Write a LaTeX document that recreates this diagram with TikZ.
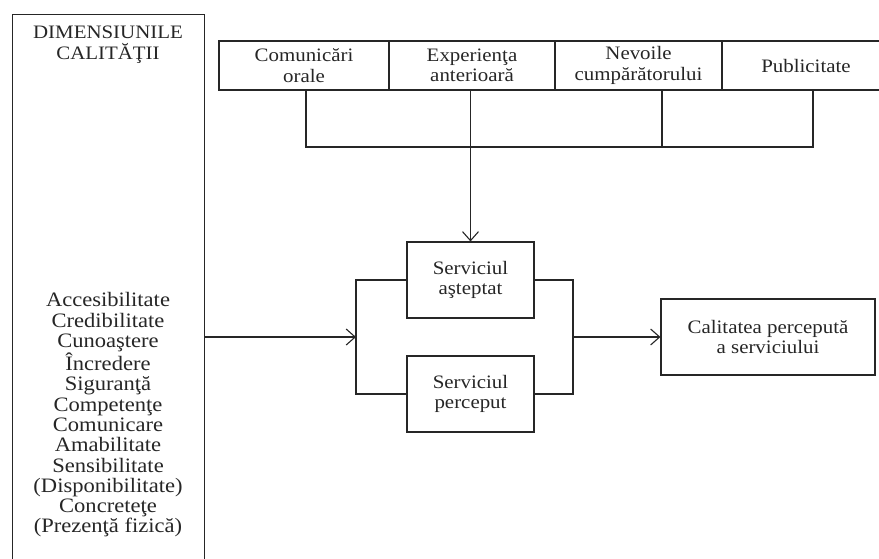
\documentclass[tikz,border=0pt]{standalone}
\usepackage{fontspec}
\setmainfont{Liberation Serif}[FakeStretch=1.1]
\usetikzlibrary{arrows.meta}
\begin{document}
\begin{tikzpicture}[x=1pt,y=-1pt,
  every node/.style={font=\fontsize{19}{20.3}\selectfont, text=black!85},
  box/.style={draw=black!85, line width=1.1pt, inner sep=0pt, align=center},
  lbl/.style={inner sep=0pt, align=center},
  conn/.style={draw=black!85, line width=1.1pt},
  arr/.style={conn, -{Straight Barb[length=9pt,width=16pt,line width=1.1pt]}}]
\useasboundingbox (0,0) rectangle (879,558);

% quality dimensions column
\node[box, anchor=north west, minimum width=192, minimum height=570] (dim) at (12,14) {};
\node[lbl] (dimtitle) at (108,45) {DIMENSIUNILE\\[1pt]CALITĂŢII};
\node[lbl, font=\fontsize{20.5}{20.3}\selectfont] (dimlist) at (108,415) {Accesibilitate\\Credibilitate\\Cunoaştere\\Încredere\\Siguranţă\\Competenţe\\Comunicare\\Amabilitate\\Sensibilitate\\(Disponibilitate)\\Concreteţe\\(Prezenţă fizică)};

% expectation sources
\node[box, minimum width=170, minimum height=49] (b1) at (304,65.5) {Comunicări\\orale};
\node[box, minimum width=166, minimum height=49] (b2) at (472,65.5) {Experienţa\\anterioară};
\node[box, minimum width=167, minimum height=49] (b3) at (638.5,65.5) {Nevoile\\cumpărătorului};
\node[box, minimum width=168, minimum height=49] (b4) at (806,65.5) {Publicitate};

% service boxes
\node[box, minimum width=127, minimum height=76] (asteptat) at (470.5,280) {Serviciul\\aşteptat};
\node[box, minimum width=127, minimum height=76] (perceput) at (470.5,394) {Serviciul\\perceput};
\node[box, minimum width=214, minimum height=76] (calit) at (768,337) {Calitatea percepută\\a serviciului};

% collector below the sources
\coordinate (hl) at (306,147);
\coordinate (h3) at (662,147);
\coordinate (hr) at (813,147);
\draw[conn] (b1.south -| hl) -- (hl) -- (hr) -- (b4.south -| hr);
\draw[conn] (b3.south -| h3) -- (h3);
\draw[arr] (b2.south -| asteptat.north) -- (asteptat.north);

% brackets and flow
\coordinate (jl) at (356,337);
\coordinate (jr) at (573,337);
\draw[conn] (asteptat.west) -| (jl) |- (perceput.west);
\draw[conn] (asteptat.east) -| (jr) |- (perceput.east);
\draw[arr] (dim.east |- jl) -- (jl);
\draw[arr] (jr) -- (calit.west);
\end{tikzpicture}
\end{document}
